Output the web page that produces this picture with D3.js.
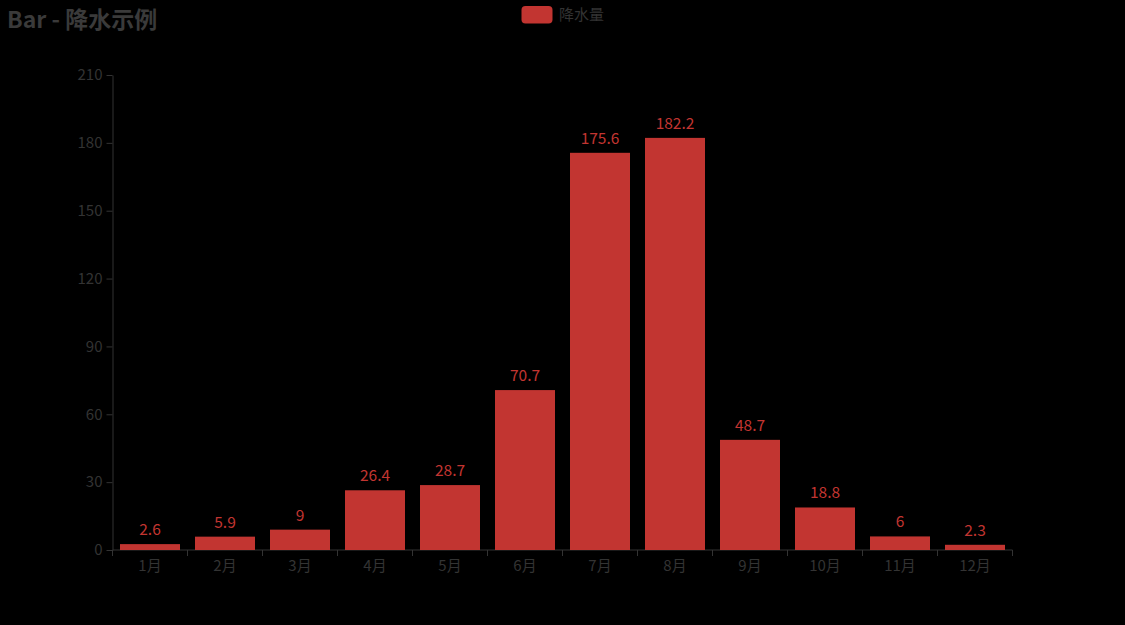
<!DOCTYPE html>
<html><head><meta charset="utf-8">
<script src="https://cdn.jsdelivr.net/npm/d3@7"></script>
<style>html,body{margin:0;padding:0;background:#000;}svg{display:block;}</style>
</head><body>
<svg id="c" width="1125" height="625"></svg>
<script>
const months = ["1月","2月","3月","4月","5月","6月","7月","8月","9月","10月","11月","12月"];
const rainfall = [2.6, 5.9, 9, 26.4, 28.7, 70.7, 175.6, 182.2, 48.7, 18.8, 6, 2.3];
const yTicks = [0, 30, 60, 90, 120, 150, 180, 210];
const seriesName = "降水量";
const titleText = "Bar - 降水示例";

const W = 1125, H = 625;
const font = "'Noto Sans CJK SC','Noto Sans',sans-serif";
const m = {left: 112.5, right: 112.5, top: 75, bottom: 75};
const svg = d3.select("#c");
svg.append("rect").attr("width", W).attr("height", H).attr("fill", "#000");

const x = d3.scaleBand().domain(months).range([m.left, W - m.right]).paddingInner(0.2).paddingOuter(0.1);
const xb = d3.scaleBand().domain(months).range([m.left, W - m.right]);
const y = d3.scaleLinear().domain([0, 210]).range([H - m.bottom, m.top]);

const axisColor = "#333";

// Y axis
const ya = svg.append("g").attr("transform", `translate(${m.left},0)`)
  .call(d3.axisLeft(y).tickValues(yTicks).tickSize(6).tickPadding(4).tickSizeOuter(0));
ya.select(".domain").attr("stroke", axisColor);
ya.selectAll(".tick line").attr("stroke", axisColor);
ya.selectAll(".tick text").attr("fill", axisColor).attr("font-size", 15).attr("font-family", font);

// X axis (ticks at band boundaries)
const xg = svg.append("g").attr("transform", `translate(0,${H - m.bottom})`);
xg.append("line").attr("x1", m.left).attr("x2", W - m.right).attr("stroke", axisColor);
const bounds = months.map(d => xb(d)).concat([W - m.right]);
xg.selectAll("line.tk").data(bounds).join("line").attr("class", "tk")
  .attr("x1", d => d).attr("x2", d => d).attr("y1", 0).attr("y2", 6).attr("stroke", axisColor);
xg.selectAll("text").data(months).join("text")
  .attr("x", d => xb(d) + xb.bandwidth() / 2).attr("y", 21)
  .attr("text-anchor", "middle").attr("fill", axisColor)
  .attr("font-size", 15).attr("font-family", font).text(d => d);

// Bars
const data = months.map((mo, i) => ({mo, v: rainfall[i]}));
svg.append("g").selectAll("rect").data(data).join("rect")
  .attr("x", d => x(d.mo)).attr("width", x.bandwidth())
  .attr("y", d => y(d.v)).attr("height", d => y(0) - y(d.v))
  .attr("fill", "#c23531");
svg.append("g").selectAll("text").data(data).join("text")
  .attr("x", d => x(d.mo) + x.bandwidth() / 2).attr("y", d => y(d.v) - 9)
  .attr("text-anchor", "middle").attr("fill", "#c23531")
  .attr("font-size", 15.5).attr("font-family", font).text(d => d.v);

// Title
svg.append("text").attr("x", 7).attr("y", 27.5).attr("fill", "#3a3a3a")
  .attr("font-size", 23).attr("font-weight", "bold").attr("font-family", font).text(titleText);

// Legend
const lg = svg.append("g");
lg.append("rect").attr("x", 521.5).attr("y", 6).attr("width", 31).attr("height", 17.5)
  .attr("rx", 4).attr("fill", "#c23531");
lg.append("text").attr("x", 559).attr("y", 20).attr("fill", axisColor)
  .attr("font-size", 15).attr("font-family", font).text(seriesName);
</script>
</body></html>
